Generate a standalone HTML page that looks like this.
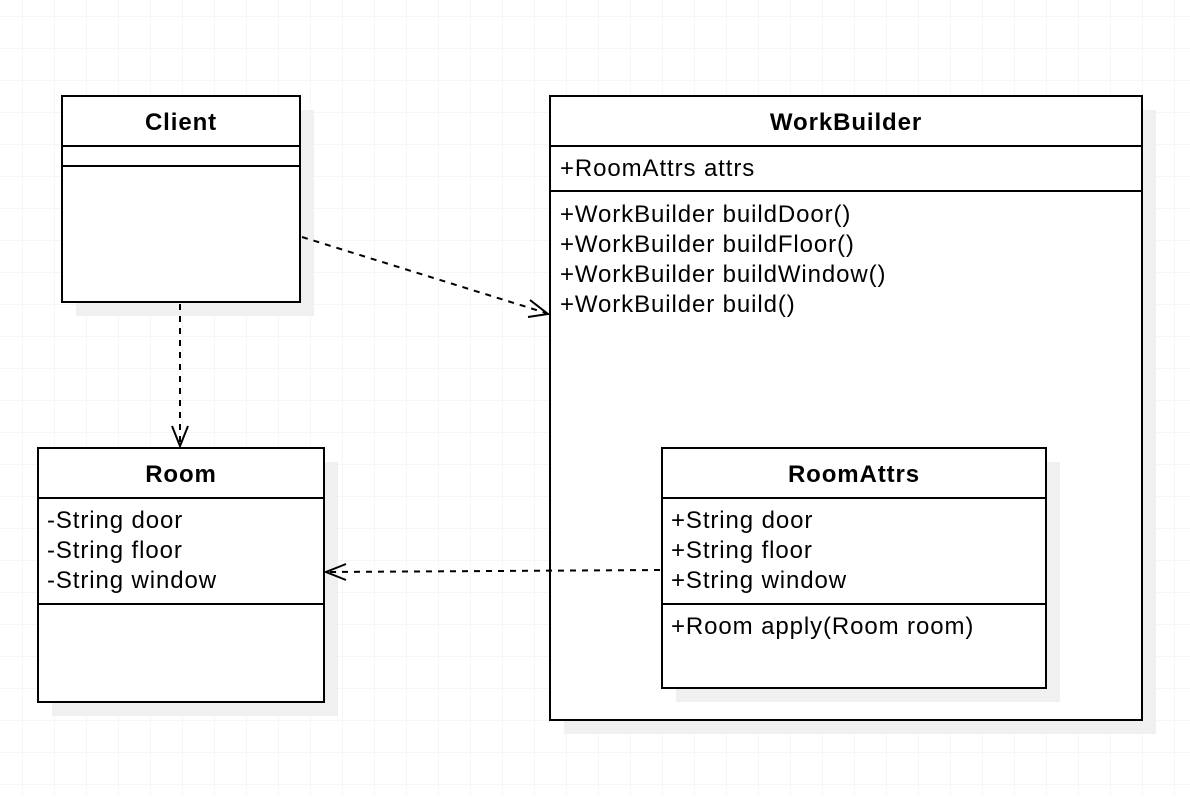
<!DOCTYPE html>
<html><head><meta charset="utf-8"><style>
body{margin:0;background:#fff}
svg text{font-family:"Liberation Sans",Arial,sans-serif;font-size:24px;fill:#000;letter-spacing:0.9px}
.b{font-weight:bold}
</style></head><body>
<svg width="1190" height="796" viewBox="0 0 1190 796" xmlns="http://www.w3.org/2000/svg">
<defs>
<pattern id="g" x="22" y="16" width="32" height="32" patternUnits="userSpaceOnUse">
<path d="M0 0H32M0 0V32" stroke="#ededed" stroke-width="1" fill="none"/>
</pattern>
</defs>
<rect width="1190" height="796" fill="url(#g)"/>
<g fill="#f0f0f0">
<rect x="76" y="110" width="238" height="206"/>
<rect x="564" y="110" width="592" height="624"/>
<rect x="52" y="462" width="286" height="254"/>
</g>
<g fill="#fff" stroke="#000" stroke-width="2">
<rect x="62" y="96" width="238" height="206"/>
<line x1="62" y1="146" x2="300" y2="146"/>
<line x1="62" y1="166" x2="300" y2="166"/>
<rect x="550" y="96" width="592" height="624"/>
<line x1="550" y1="146" x2="1142" y2="146"/>
<line x1="550" y1="191" x2="1142" y2="191"/>
<rect x="38" y="448" width="286" height="254"/>
<line x1="38" y1="498" x2="324" y2="498"/>
<line x1="38" y1="604" x2="324" y2="604"/>
</g>
<rect x="676" y="462" width="384" height="240" fill="#f0f0f0"/>
<g fill="#fff" stroke="#000" stroke-width="2">
<rect x="662" y="448" width="384" height="240"/>
<line x1="662" y1="498" x2="1046" y2="498"/>
<line x1="662" y1="604" x2="1046" y2="604"/>
</g>
<text class="b" x="181" y="130" text-anchor="middle">Client</text>
<text class="b" x="846" y="130" text-anchor="middle">WorkBuilder</text>
<text class="b" x="181" y="482" text-anchor="middle">Room</text>
<text class="b" x="854" y="482" text-anchor="middle">RoomAttrs</text>
<text x="560" y="176">+RoomAttrs attrs</text>
<text x="560" y="222">+WorkBuilder buildDoor()</text>
<text x="560" y="252">+WorkBuilder buildFloor()</text>
<text x="560" y="282">+WorkBuilder buildWindow()</text>
<text x="560" y="312">+WorkBuilder build()</text>
<text x="47" y="528">-String door</text>
<text x="47" y="558">-String floor</text>
<text x="47" y="588">-String window</text>
<text x="671" y="528">+String door</text>
<text x="671" y="558">+String floor</text>
<text x="671" y="588">+String window</text>
<text x="671" y="634">+Room apply(Room room)</text>
<g stroke="#000" stroke-width="2" fill="none">
<path d="M302 237L546 313" stroke-dasharray="6 6"/>
<path d="M530 300L548 314L528 317"/>
<path d="M180 304V444" stroke-dasharray="6 6"/>
<path d="M172 426L180 446L188 426"/>
<path d="M660 570L328 572" stroke-dasharray="6 6"/>
<path d="M346 564L326 572L346 580"/>
</g>
</svg>
</body></html>
